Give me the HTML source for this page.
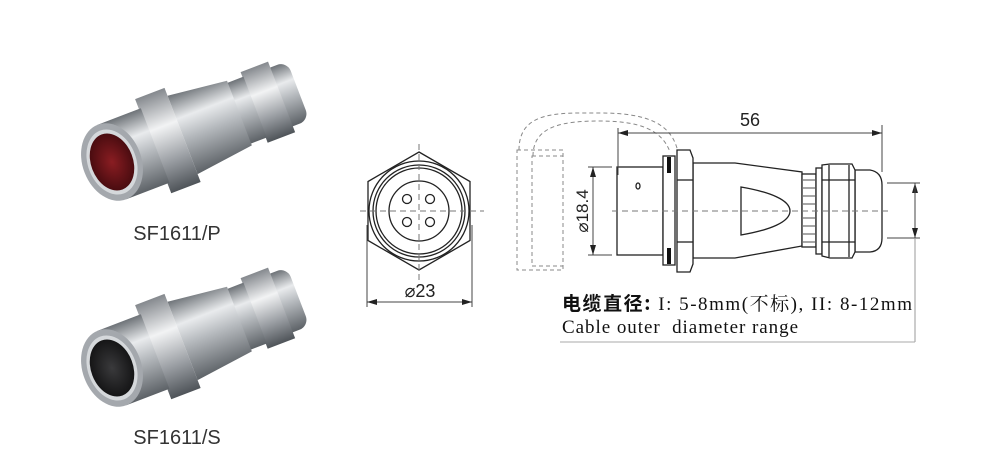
<!DOCTYPE html>
<html><head><meta charset="utf-8"><style>
html,body{margin:0;padding:0;background:#fff;}
svg{display:block}
</style></head><body>
<svg width="1000" height="458" viewBox="0 0 1000 458" xmlns="http://www.w3.org/2000/svg">
<defs>
<linearGradient id="sil" x1="0" y1="0" x2="0" y2="1">
<stop offset="0" stop-color="#6e7378"/><stop offset="0.3" stop-color="#e9ebed"/><stop offset="0.55" stop-color="#b5b9bd"/><stop offset="1" stop-color="#5d6267"/>
</linearGradient>
<linearGradient id="sil2" x1="0" y1="0" x2="0" y2="1">
<stop offset="0" stop-color="#85898e"/><stop offset="0.35" stop-color="#f2f3f4"/><stop offset="0.7" stop-color="#9a9ea3"/><stop offset="1" stop-color="#4f5459"/>
</linearGradient>
<radialGradient id="red" cx="0.5" cy="0.5" r="0.5"><stop offset="0" stop-color="#8a1d22"/><stop offset="1" stop-color="#4a0c10"/></radialGradient>
<radialGradient id="blk" cx="0.5" cy="0.5" r="0.5"><stop offset="0" stop-color="#3a3a3c"/><stop offset="1" stop-color="#151516"/></radialGradient>
<g id="conn">
<rect x="150" y="-30" width="40" height="60" rx="10" fill="url(#sil)"/>
<rect x="145" y="-36" width="28" height="72" fill="url(#sil2)"/>
<rect x="128" y="-31" width="18" height="62" fill="url(#sil)"/>
<path d="M72,-40 L130,-33 L130,33 L72,40 Z" fill="url(#sil)"/>
<rect x="42" y="-48" width="30" height="96" fill="url(#sil2)"/>
<rect x="0" y="-38" width="44" height="76" fill="url(#sil)"/>
<ellipse cx="0" cy="0" rx="28" ry="38" fill="#a4a8ad"/>
<ellipse cx="0" cy="0" rx="23" ry="32" fill="#d5d8db"/>
</g>
<marker id="ar" viewBox="0 0 10 6" refX="10" refY="3" markerWidth="10" markerHeight="6" orient="auto-start-reverse" markerUnits="userSpaceOnUse"><path d="M0,0 L10,3 L0,6 Z" fill="#222"/></marker>
</defs>

<!-- photos -->
<g transform="translate(112,162) rotate(-21) scale(1.05)">
<use href="#conn"/>
<ellipse cx="0" cy="0" rx="20" ry="28" fill="url(#red)"/>
</g>
<g transform="translate(112,368) rotate(-21) scale(1.05)">
<use href="#conn"/>
<ellipse cx="0" cy="0" rx="20" ry="28" fill="url(#blk)"/>
</g>
<text x="177" y="240" font-family="Liberation Sans, sans-serif" font-size="20" fill="#333" text-anchor="middle">SF1611/P</text>
<text x="177" y="444" font-family="Liberation Sans, sans-serif" font-size="20" fill="#333" text-anchor="middle">SF1611/S</text>

<!-- front view -->
<g fill="none" stroke="#222" stroke-width="1.3">
<polygon points="419,152 470,181.5 470,240.5 419,270 368,240.5 368,181.5"/>
<circle cx="419" cy="211" r="50"/>
<circle cx="419" cy="211" r="46"/>
<circle cx="419" cy="211" r="43"/>
<circle cx="419" cy="211" r="30"/>
<circle cx="407" cy="199" r="4.5"/><circle cx="430" cy="199" r="4.5"/>
<circle cx="407" cy="222" r="4.5"/><circle cx="430" cy="222" r="4.5"/>
</g>
<g stroke="#777" stroke-width="1" stroke-dasharray="6,4">
<line x1="360" y1="211" x2="484" y2="211"/><line x1="419" y1="144" x2="419" y2="285"/>
</g>
<g stroke="#444" stroke-width="1">
<line x1="367" y1="225" x2="367" y2="307"/><line x1="472" y1="225" x2="472" y2="307"/>
<line x1="367" y1="302" x2="472" y2="302" marker-start="url(#ar)" marker-end="url(#ar)"/>
</g>
<text x="420" y="297" font-family="Liberation Sans, sans-serif" font-size="18" fill="#222" text-anchor="middle">⌀23</text>

<!-- side view -->
<g fill="none" stroke="#888" stroke-width="1" stroke-dasharray="4,3">
<rect x="517" y="150" width="46" height="120"/>
<rect x="532" y="156" width="31" height="110"/>
<path d="M519,150 C519,110 560,113 600,113 C650,113 672,125 678,152"/>
<path d="M533,156 C533,125 565,121 600,121 C640,121 662,130 670,152"/>
</g>
<g fill="#fff" stroke="#222" stroke-width="1.3">
<rect x="617" y="167" width="46" height="88"/>
<path d="M693,163 L735,163 L802,172 L802,246 L735,258 L693,258 Z"/>
<path d="M741,187 C770,192 790,200 790,211 C790,222 770,230 741,235 Z"/>
<rect x="802" y="174" width="14" height="73"/>
<rect x="816" y="168" width="6" height="86"/>
<path d="M855,170 L870,170 Q882,172 882,185 L882,238 Q882,251 870,252 L855,252 Z"/>
<path d="M822,165 L830,164 L852,164 L855,170 L855,252 L852,258 L830,258 L822,256 Z"/>
<line x1="829" y1="165" x2="829" y2="257"/><line x1="849" y1="165" x2="849" y2="257"/>
<line x1="822" y1="180" x2="855" y2="180"/><line x1="822" y1="242" x2="855" y2="242"/>
<rect x="663" y="156" width="12" height="109"/>
<path d="M677,150 L690,150 L693,158 L693,264 L690,272 L677,272 Z"/>
<line x1="677" y1="180" x2="693" y2="180"/><line x1="677" y1="242" x2="693" y2="242"/>
<ellipse cx="638" cy="186" rx="2" ry="3"/>
</g>
<rect x="667" y="157" width="4" height="16" fill="#111"/><rect x="667" y="248" width="4" height="16" fill="#111"/>
<g stroke="#222" stroke-width="0.8">
<line x1="803" y1="180" x2="815" y2="180"/><line x1="803" y1="188" x2="815" y2="188"/><line x1="803" y1="196" x2="815" y2="196"/><line x1="803" y1="204" x2="815" y2="204"/><line x1="803" y1="218" x2="815" y2="218"/><line x1="803" y1="226" x2="815" y2="226"/><line x1="803" y1="234" x2="815" y2="234"/><line x1="803" y1="242" x2="815" y2="242"/>
</g>
<line x1="612" y1="211" x2="890" y2="211" stroke="#777" stroke-width="1" stroke-dasharray="6,4"/>
<g stroke="#444" stroke-width="1">
<line x1="618" y1="128" x2="618" y2="175"/><line x1="882" y1="125" x2="882" y2="172"/>
<line x1="618" y1="133" x2="882" y2="133" marker-start="url(#ar)" marker-end="url(#ar)"/>
<line x1="588" y1="167" x2="612" y2="167"/><line x1="588" y1="255" x2="612" y2="255"/>
<line x1="593" y1="167" x2="593" y2="255" marker-start="url(#ar)" marker-end="url(#ar)"/>
<line x1="887" y1="183" x2="920" y2="183"/><line x1="887" y1="238" x2="920" y2="238"/>
<line x1="915" y1="238" x2="915" y2="183" marker-end="url(#ar)"/>
<line x1="915" y1="183" x2="915" y2="238" marker-end="url(#ar)"/>
<line x1="915" y1="238" x2="915" y2="342" stroke="#999"/>
<line x1="560" y1="342" x2="915" y2="342" stroke="#aaa"/>
</g>
<text x="750" y="126" font-family="Liberation Sans, sans-serif" font-size="18" fill="#222" text-anchor="middle">56</text>
<text transform="translate(588,211) rotate(-90)" font-family="Liberation Sans, sans-serif" font-size="17" fill="#222" text-anchor="middle">⌀18.4</text>
<text x="562" y="310" font-family="Liberation Serif, 'Noto Serif CJK SC', serif" font-size="19" fill="#111" textLength="350" lengthAdjust="spacing"><tspan font-family="'Noto Sans CJK SC', sans-serif" font-weight="bold">电缆直径:</tspan> I: 5-8mm(不标), II: 8-12mm</text>
<text x="562" y="333" font-family="Liberation Serif, serif" font-size="19" fill="#111" textLength="236" lengthAdjust="spacing" xml:space="preserve">Cable outer  diameter range</text>
</svg>
</body></html>
